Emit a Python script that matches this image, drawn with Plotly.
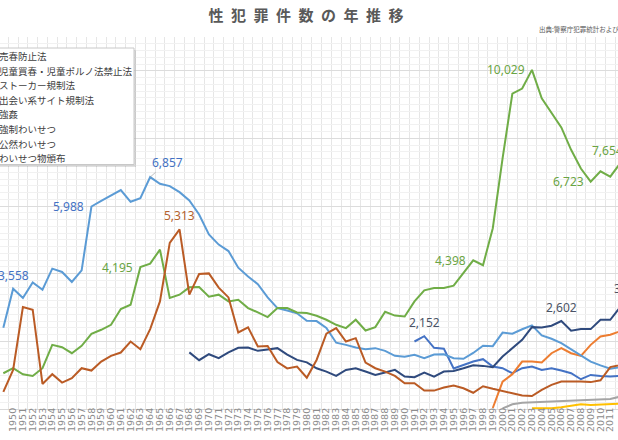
import plotly.graph_objects as go

# 性犯罪件数
W, H = 618, 440

names = [
    "売春防止法",
    "児童買春・児童ポルノ法禁止法",
    "ストーカー規制法",
    "出会い系サイト規制法",
    "強姦",
    "強制わいせつ",
    "公然わいせつ",
    "わいせつ物頒布",
]
colors = ["#4472C4", "#ED7D31", "#A5A5A5", "#FFC000",
          "#5B9BD5", "#70AD47", "#2F4A7D", "#BA5B25"]
start_years = [1991, 1999, 2000, 2003, 1949, 1949, 1968, 1949]

baishun = [1996, 2152, 1809, 1784, 1196, 1305, 1403, 1473, 1255, 1206,
           1057, 1206, 1255, 1156, 1206, 1137, 1057, 880, 1008, 978,
           959, 978, 980]
jidou = [30, 810, 1030, 1403, 1403, 1374, 1650, 1799, 1650, 1571,
         1897, 2145, 2194, 2290, 2400]
stalker = [20, 138, 188, 198, 217, 227, 237, 247, 257, 267, 277, 296, 366, 400]
deai = [20, 20, 20, 50, 89, 138, 119, 138, 148, 168, 170]
goukan = [2400, 3558, 3281, 3745, 3528, 4151, 4052, 3755, 4101, 5988,
          6157, 6315, 6473, 6127, 6236, 6857, 6661, 6591, 6413, 6167,
          5752, 5159, 4862, 4670, 4180, 3920, 3690, 3300, 2980, 2910,
          2830, 2610, 2600, 2400, 1960, 1897, 1818, 1769, 1799, 1720,
          1571, 1548, 1603, 1504, 1611, 1616, 1500, 1483, 1657, 1873,
          1857, 2260, 2228, 2357, 2472, 2176, 2076, 1948, 1766, 1582,
          1402, 1289, 1193, 1240, 1409]
kyousei = [1057, 1206, 1028, 978, 1206, 1897, 1828, 1650, 1868, 2224,
           2342, 2490, 2955, 3083, 4195, 4299, 4714, 3281, 3380, 3597,
           3610, 3320, 3380, 3182, 3232, 2985, 2856, 2718, 2985, 2985,
           2856, 2837, 2757, 2639, 2490, 2392, 2639, 2322, 2421, 2876,
           2762, 2737, 3182, 3508, 3578, 3578, 3647, 4025, 4398, 4251,
           5346, 7412, 9326, 9476, 10029, 9184, 8751, 8326, 7664, 7111,
           6723, 7027, 6870, 7263, 7654]
kouzen = [1675, 1443, 1620, 1502, 1675, 1808, 1818, 1720, 1759, 1799,
          1610, 1453, 1380, 1205, 1107, 978, 1156, 1206, 1107, 1008,
          1077, 1156, 959, 939, 1077, 959, 1107, 1127, 1206, 1295,
          1275, 1235, 1551, 1799, 2046, 2421, 2411, 2461, 2602, 2313,
          2362, 2362, 2639, 2639, 3010, 3170]
waisetsubutsu = [504, 1156, 3014, 2935, 741, 1028, 781, 909, 1206, 1137,
                 1403, 1571, 1670, 1996, 1769, 2362, 3182, 4912, 5313, 3380,
                 3990, 4010, 3590, 3300, 2263, 2415, 1848, 1860, 1390, 1200,
                 1255, 925, 1450, 2230, 2392, 1996, 2095, 1374, 1206, 1107,
                 978, 761, 761, 544, 544, 633, 692, 613, 480, 672,
                 598, 540, 465, 400, 385, 563, 712, 810, 815, 815,
                 795, 850, 1240, 1305, 1350]
series = [baishun, jidou, stalker, deai, goukan, kyousei, kouzen, waisetsubutsu]

tick_years = list(range(1949, 2012))

# データラベル: (系列番号, 年, 位置)
labels = [
    (4, 1950, "above"), (4, 1958, "left"), (4, 1964, "arrow"),
    (7, 1967, "above"), (5, 1963, "left"), (5, 1997, "left"),
    (5, 2003, "left"), (5, 2009, "left"), (5, 2013, "left"),
    (0, 1992, "above"), (6, 2006, "above"), (6, 2013, "above"),
]
label_colors = ["#4A5366", "#ED7D31", "#7F7F7F", "#BF9000",
                "#4472C4", "#6AA444", "#4A5366", "#B4612E"]

X_RANGE = [1948.66, 2011.79]
Y_RANGE = [0, 11000]
M_T, M_B = 37, 31
px_per_year = W / (X_RANGE[1] - X_RANGE[0])

fig = go.Figure()
for name, vals, col, y0 in zip(names, series, colors, start_years):
    fig.add_trace(go.Scatter(
        x=list(range(y0, y0 + len(vals))), y=vals, name=name,
        mode="lines", line=dict(color=col, width=2), showlegend=False,
    ))

for si, yr, pos in labels:
    val = series[si][yr - start_years[si]]
    txt = f"{val:,}"
    font = dict(family="Noto Sans", size=12, color=label_colors[si])
    if X_RANGE[0] <= yr <= X_RANGE[1]:
        ref = dict(x=yr, xref="x")
        extra = 0
    else:
        # 範囲外の年は右端からのずらしで置く
        ref = dict(x=1, xref="paper")
        extra = (yr - X_RANGE[1]) * px_per_year
    if pos == "above":
        fig.add_annotation(**ref, y=val, yref="y", text=txt, showarrow=False,
                           xanchor="center", yanchor="bottom",
                           xshift=extra, yshift=3, font=font)
    elif pos == "left":
        fig.add_annotation(**ref, y=val, yref="y", text=txt, showarrow=False,
                           xanchor="right", yanchor="middle",
                           xshift=extra - 5, font=font)
    else:
        fig.add_annotation(**ref, y=val, yref="y", text=txt, showarrow=True,
                           arrowhead=0, arrowwidth=0.7, arrowcolor="#A6A6A6",
                           ax=17, ay=-15, font=font)

# 凡例（左端が切れた枠）
plot_h = H - M_T - M_B


def py(p):
    return (H - M_B - p) / plot_h


fig.add_shape(type="rect", xref="paper", yref="paper",
              x0=-8 / W, x1=136 / W, y0=py(167), y1=py(50),
              line=dict(width=0), fillcolor="rgba(0,0,0,0.12)")
fig.add_shape(type="rect", xref="paper", yref="paper",
              x0=-8 / W, x1=134 / W, y0=py(164.5), y1=py(48),
              line=dict(color="#C8C8C8", width=1), fillcolor="white")
for i, name in enumerate(names):
    fig.add_annotation(x=-3 / W, xref="paper", y=py(56 + i * 14.6), yref="paper",
                       text=name, showarrow=False, xanchor="left", yanchor="middle",
                       font=dict(family="Noto Sans CJK JP", size=9.5, color="#404040"))

fig.add_annotation(x=537 / W, xref="paper", y=py(29), yref="paper",
                   text="出典:警察庁犯罪統計および犯罪白書", showarrow=False,
                   xanchor="left", yanchor="middle",
                   font=dict(family="Noto Sans CJK JP", size=6.5, color="#595959"))

fig.update_layout(
    width=W, height=H,
    margin=dict(l=0, r=0, t=M_T, b=M_B, autoexpand=False),
    paper_bgcolor="white", plot_bgcolor="white",
    title=dict(text="\u2002".join("性犯罪件数の年推移"), x=306 / W, xanchor="center",
               y=1 - 16 / H, yanchor="middle",
               font=dict(family="Noto Sans CJK JP", size=15, color="#595959", weight="bold")),
    xaxis=dict(range=X_RANGE, tickmode="array", tickvals=tick_years,
               ticktext=[str(y) for y in tick_years], tickangle=-90,
               showgrid=False, zeroline=False, automargin=False,
               showline=True, linecolor="#D9D9D9", linewidth=1,
               ticks="", ticklen=0, ticklabelstandoff=-6,
               tickfont=dict(family="DejaVu Sans", size=9.5, color="#8C8C8C"),
               minor=dict(tick0=1948.5, dtick=1, showgrid=True,
                          gridcolor="#E6E6E6", gridwidth=1)),
    yaxis=dict(range=Y_RANGE, dtick=2000, showgrid=True, gridcolor="#DCDCDC",
               zeroline=False, showticklabels=False, automargin=False, ticks="",
               minor=dict(dtick=200, showgrid=True, gridcolor="#F1F1F1", gridwidth=1)),
)

# ページ既定の余白を消して図を左上に合わせる
fig.write_html("out.html", config={"displayModeBar": False},
               post_script="document.body.style.margin = '0';")
